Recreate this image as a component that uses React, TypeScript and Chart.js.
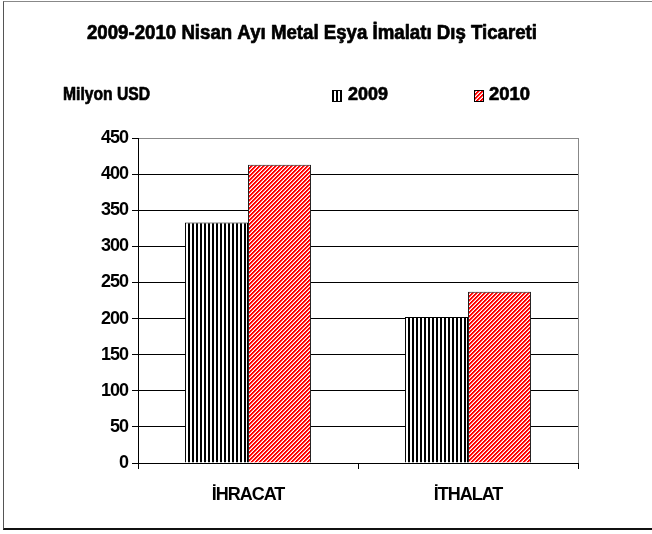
import React, { useEffect, useRef } from "react";
import { Chart, registerables } from "chart.js";

Chart.register(...registerables);

const TITLE = "2009-2010 Nisan Ayı Metal Eşya İmalatı Dış Ticareti";
const Y_TITLE = "Milyon USD";
const categories = ["İHRACAT", "İTHALAT"];
const seriesLabels = ["2009", "2010"];
const values2009 = [333, 202];
const values2010 = [413, 237];
const yMin = 0;
const yMax = 450;
const yStep = 50;

const FONT_FAMILY = '"Liberation Sans", Arial, sans-serif';

function makeVerticalStripes(): CanvasPattern | string {
  const c = document.createElement("canvas");
  c.width = 4;
  c.height = 4;
  const g = c.getContext("2d")!;
  g.fillStyle = "#ffffff";
  g.fillRect(0, 0, 4, 4);
  g.fillStyle = "#000000";
  g.fillRect(0, 0, 2, 4);
  return g.createPattern(c, "repeat") || "#000";
}

function makeDiagonalStripes(): CanvasPattern | string {
  const c = document.createElement("canvas");
  c.width = 4;
  c.height = 4;
  const g = c.getContext("2d")!;
  g.fillStyle = "#ffffff";
  g.fillRect(0, 0, 4, 4);
  for (let y = 0; y < 4; y++) {
    for (let x = 0; x < 4; x++) {
      const k = (x + y) % 4;
      if (k < 2) {
        g.fillStyle = "#ff0000";
        g.fillRect(x, y, 1, 1);
      } else if (k === 2) {
        g.fillStyle = "#ff8c8c";
        g.fillRect(x, y, 1, 1);
      }
    }
  }
  return g.createPattern(c, "repeat") || "#f00";
}

function drawFitted(
  ctx: CanvasRenderingContext2D,
  text: string,
  left: number,
  cy: number,
  width: number,
  size: number
) {
  ctx.save();
  (ctx as any).letterSpacing = "0px";
  ctx.font = `bold ${size}px ${FONT_FAMILY}`;
  const w = ctx.measureText(text).width;
  const sx = width / w;
  ctx.translate(left, cy);
  ctx.scale(sx, 1);
  ctx.textAlign = "left";
  ctx.textBaseline = "middle";
  ctx.fillStyle = "#000";
  ctx.strokeStyle = "#000";
  ctx.lineWidth = 0.7;
  ctx.lineJoin = "round";
  ctx.fillText(text, 0, 0);
  ctx.strokeText(text, 0, 0);
  ctx.restore();
}

export default function App() {
  const ref = useRef<HTMLCanvasElement | null>(null);

  useEffect(() => {
    const canvas = ref.current;
    if (!canvas) return;
    const p2009 = makeVerticalStripes();
    const p2010 = makeDiagonalStripes();

    const decor = {
      id: "decor",
      beforeUpdate(chart: any) {
        chart.ctx.letterSpacing = "-1px";
      },
      beforeDraw(chart: any) {
        chart.ctx.letterSpacing = "-1px";
      },
      afterDraw(chart: any) {
        const { ctx, chartArea } = chart;
        ctx.save();
        ctx.strokeStyle = "#888";
        ctx.lineWidth = 1;
        ctx.beginPath();
        ctx.moveTo(Math.round(chartArea.right) + 0.5, chartArea.top);
        ctx.lineTo(Math.round(chartArea.right) + 0.5, chartArea.bottom);
        ctx.stroke();
        ctx.restore();

        drawFitted(ctx, TITLE, 87, 33, 450, 20);
        drawFitted(ctx, Y_TITLE, 63, 95, 87, 19);

        const legendItems = [
          { label: seriesLabels[0], fill: p2009, box: 332, text: 348, w: 40 },
          { label: seriesLabels[1], fill: p2010, box: 474, text: 489, w: 41 },
        ];
        for (const it of legendItems) {
          ctx.save();
          ctx.fillStyle = it.fill;
          ctx.fillRect(it.box, 90, 9, 11);
          ctx.strokeStyle = "#000";
          ctx.lineWidth = 1;
          ctx.strokeRect(it.box + 0.5, 90.5, 9, 11);
          ctx.restore();
          drawFitted(ctx, it.label, it.text, 95, it.w, 19);
        }
      },
    };

    const chart = new Chart(canvas, {
      type: "bar",
      data: {
        labels: categories,
        datasets: [
          {
            label: seriesLabels[0],
            data: values2009,
            backgroundColor: p2009 as any,
            borderColor: "#000",
            borderWidth: 1,
            categoryPercentage: 0.573,
            barPercentage: 1,
          },
          {
            label: seriesLabels[1],
            data: values2010,
            backgroundColor: p2010 as any,
            borderColor: "#222",
            borderWidth: 1,
            categoryPercentage: 0.573,
            barPercentage: 1,
          },
        ],
      },
      options: {
        responsive: false,
        animation: false,
        layout: { padding: { top: 138, right: 74, left: 0, bottom: 0 } },
        plugins: {
          legend: { display: false },
          title: { display: false },
          tooltip: { enabled: false },
        },
        scales: {
          x: {
            type: "category",
            grid: {
              offset: true,
              drawOnChartArea: false,
              drawTicks: true,
              tickLength: 6,
              tickColor: "#000",
              color: "#000",
            },
            border: { display: true, color: "#000", width: 1 },
            ticks: { color: "#000", font: { family: FONT_FAMILY, size: 18, weight: "bold" }, padding: 15 },
            afterFit(scale: any) {
              scale.height = 71;
            },
          },
          y: {
            min: yMin,
            max: yMax,
            grid: {
              color: (c: any) => (c.tick && c.tick.value === yMax ? "#888" : "#000"),
              tickColor: "#000",
              tickLength: 6,
              drawTicks: true,
            },
            border: { display: true, color: "#000", width: 1 },
            ticks: {
              stepSize: yStep,
              color: "#000",
              padding: 4,
              font: { family: FONT_FAMILY, size: 18, weight: "bold" },
            },
            afterFit(scale: any) {
              scale.width = 138;
            },
          },
        },
      },
      plugins: [decor],
    });
    return () => chart.destroy();
  }, []);

  return (
    <div style={{ position: "absolute", left: 0, top: 0, width: 652, height: 534, background: "#fff" }}>
      <div
        style={{
          position: "absolute",
          left: 3,
          top: 1,
          width: 649,
          height: 529,
          boxSizing: "border-box",
          borderTop: "1px solid #888",
          borderLeft: "1px solid #555",
          borderBottom: "2px solid #111",
        }}
      />
      <canvas ref={ref} width={652} height={534} style={{ position: "absolute", left: 0, top: 0, width: 652, height: 534 }} />
    </div>
  );
}
